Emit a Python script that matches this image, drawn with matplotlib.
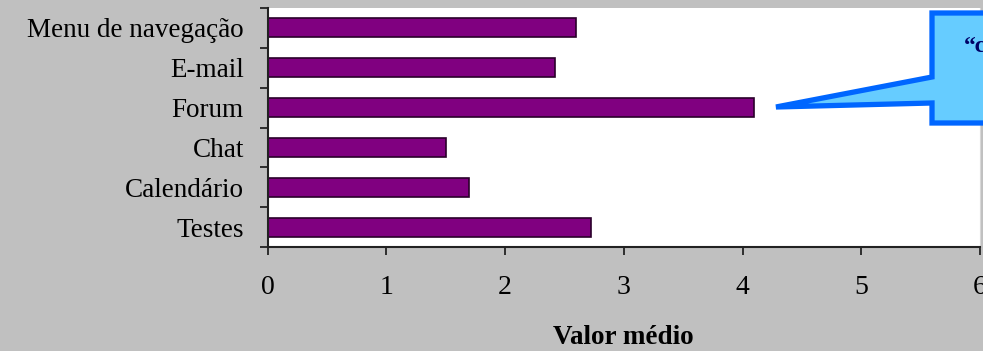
import matplotlib.pyplot as plt
from matplotlib.patches import Polygon

# average score per feature (top to bottom as shown)
features = ['Menu de navegação', 'E-mail', 'Forum', 'Chat', 'Calendário', 'Testes']
mean_values = [2.6, 2.42, 4.1, 1.5, 1.7, 2.72]
x_ticks = [0, 1, 2, 3, 4, 5, 6]

W, H = 983, 351
fig = plt.figure(figsize=(W / 100, H / 100), dpi=100, facecolor='#c0c0c0')

# plot area in pixel units
left, right, top, bottom = 267.5, 980, 8, 247
ax = fig.add_axes([left / W, 1 - bottom / H, (right - left) / W, (bottom - top) / H])
ax.set_facecolor('white')

serif = ['Liberation Serif', 'DejaVu Serif']

pos = list(range(len(features)))[::-1]
ax.barh(pos, mean_values, height=0.48, color='#800080', edgecolor='#2a002a', linewidth=1.2)

ax.set_xlim(0, 6)
ax.set_ylim(-0.5, len(features) - 0.5)
ax.set_xticks(x_ticks)
ax.set_xticklabels([str(t) for t in x_ticks], family=serif, fontsize=20)
ax.set_yticks(pos)
ax.set_yticklabels(features, family=serif, fontsize=19.5)
ax.set_yticks([p - 0.5 for p in range(len(features) + 1)], minor=True)
ax.tick_params(axis='y', which='major', length=0, pad=17)
ax.tick_params(axis='y', which='minor', length=6, width=1.3, color='#222222')
ax.tick_params(axis='x', length=6, width=1.3, color='#222222', pad=14)

for side in ['left', 'bottom']:
    ax.spines[side].set_color('#222222')
    ax.spines[side].set_linewidth(1.5)
ax.spines['top'].set_visible(False)
ax.spines['right'].set_color('#d8d8d8')

ax.set_xlabel('Valor médio', family=serif, fontsize=19.5, fontweight='bold', labelpad=18)


def px(x, y):
    return (x / W, 1 - y / H)


# callout pointing at the Forum bar
callout = Polygon(
    [px(932, 13), px(1000, 13), px(1000, 123), px(932, 123),
     px(932, 103), px(776, 107), px(932, 77)],
    closed=True, transform=fig.transFigure, facecolor='#66ccff',
    edgecolor='#0066ff', linewidth=3.8, joinstyle='miter', zorder=5)
fig.patches.append(callout)
fig.text(964 / W, 1 - 46 / H, '\u201cc', transform=fig.transFigure, family=serif,
         fontsize=17, fontweight='bold', color='#000066', va='center', zorder=6)

fig.savefig('out.png', dpi=100, facecolor=fig.get_facecolor())
